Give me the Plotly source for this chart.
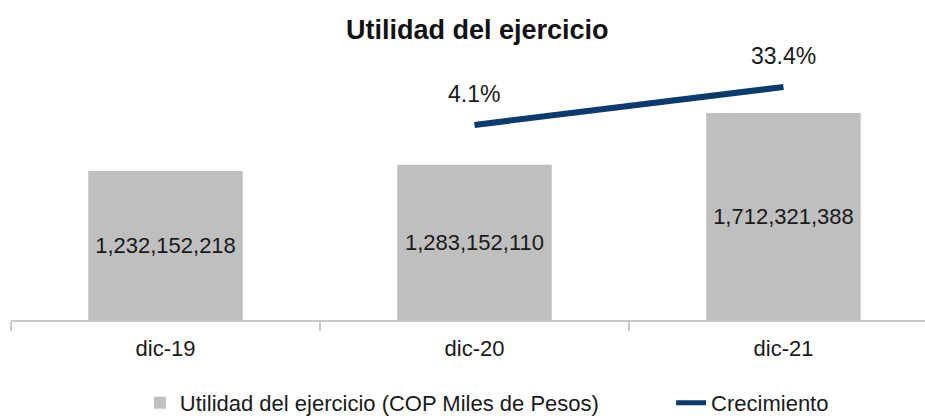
import plotly.graph_objects as go

categories = ["dic-19", "dic-20", "dic-21"]
utilidad = [1232152218, 1283152110, 1712321388]
growth_categories = ["dic-20", "dic-21"]
crecimiento = [4.1, 33.4]
growth_labels = ["4.1%", "33.4%"]
bar_name = "Utilidad del ejercicio (COP Miles de Pesos)"
line_name = "Crecimiento"

FONT = "Liberation Sans, Arial, sans-serif"
BAR_COLOR = "#BFBFBF"
LINE_COLOR = "#0B3A6E"

fig = go.Figure()
fig.add_trace(go.Bar(
    x=categories, y=utilidad, name=bar_name + "\u00a0" * 11,
    marker=dict(color=BAR_COLOR, line=dict(width=0)), width=0.5,
    texttemplate="%{y:,.0f}", textposition="inside", insidetextanchor="middle",
    textangle=0, constraintext="none",
    textfont=dict(family=FONT, size=22, color="#1a1a1a"),
    yaxis="y",
))
fig.add_trace(go.Scatter(
    x=growth_categories, y=crecimiento, name=line_name, mode="lines",
    line=dict(color=LINE_COLOR, width=6), yaxis="y2",
))
for xc, yv, lab in zip(growth_categories, crecimiento, growth_labels):
    fig.add_annotation(x=xc, y=yv, xref="x", yref="y2", text=lab, showarrow=False,
                       yshift=31, font=dict(family=FONT, size=23, color="#1a1a1a"))

fig.update_layout(
    width=925, height=416,
    margin=dict(l=11, r=0, t=60, b=96, autoexpand=False),
    paper_bgcolor="white", plot_bgcolor="white",
    title=dict(text="<b>Utilidad del ejercicio</b>", x=0.516, xref="container",
               y=1 - 30 / 416, yref="container", xanchor="center", yanchor="middle",
               font=dict(family=FONT, size=27, color="#111111")),
    font=dict(family=FONT, color="#1a1a1a"),
    xaxis=dict(range=[-0.5, 2.458], showgrid=False, showline=True, linecolor="#C8C8C8",
               linewidth=2, ticks="outside", tickson="boundaries", ticklen=9,
               tickcolor="#C8C8C8", tickwidth=1.5, ticklabelstandoff=8,
               tickfont=dict(family=FONT, size=22, color="#1a1a1a")),
    yaxis=dict(range=[0, 2.15e9], visible=False, showgrid=False),
    yaxis2=dict(range=[-146.3, 54.2], overlaying="y", side="right", visible=False,
                showgrid=False),
    legend=dict(orientation="h", x=0.141, xanchor="left", y=-0.319, yanchor="middle",
                font=dict(family=FONT, size=22, color="#1a1a1a"),
                itemsizing="constant", traceorder="normal"),
    showlegend=True,
    bargap=0.5,
)

fig.write_html("out.html", config={"displayModeBar": False},
               post_script="document.body.style.margin='0';document.body.style.padding='0';")
